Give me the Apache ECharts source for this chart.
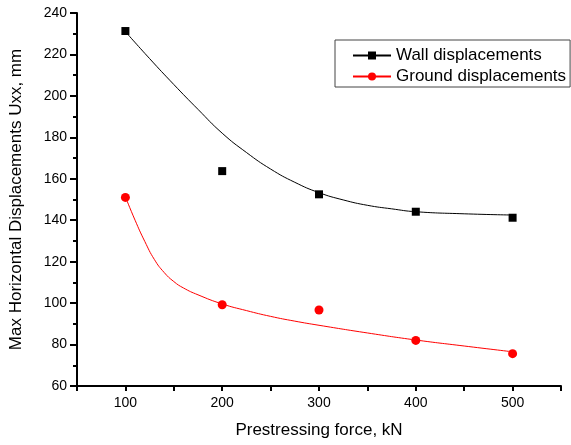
<!DOCTYPE html>
<html>
<head>
<meta charset="utf-8">
<script src="https://cdn.jsdelivr.net/npm/echarts@6/dist/echarts.min.js"></script>
<style>
  html, body { margin: 0; padding: 0; background: #fff; }
  #chart { width: 571px; height: 445px; }
</style>
</head>
<body>
<div id="chart"></div>
<script>
// measured points
const forceKN = [100, 200, 300, 400, 500]
const wallDisp = [231.3, 163.7, 152.5, 144.1, 141.2]
const groundDisp = [151, 99.2, 96.7, 82, 75.6]

// fitted curves
const wallFitX = [100, 125, 150, 175, 200, 225, 250, 275, 300, 325, 350, 375, 400, 450, 500]
const wallFitY = [231, 218, 205.5, 193.5, 182, 172.7, 164.7, 158.3, 153.3, 149.8, 147.2, 145.5, 144.1, 143.1, 142.5]
const groundFitX = [100, 110, 120, 130, 140, 150, 160, 175, 200, 225, 250, 275, 300, 350, 400, 450, 500]
const groundFitY = [151.3, 140, 129.8, 121, 114.8, 110.4, 107.3, 104, 99.6, 96.4, 93.6, 91.3, 89.3, 85.6, 82.2, 79.3, 76.5]

const xTicks = [100, 200, 300, 400, 500]
const legendNames = ['Wall displacements', 'Ground displacements']

const font = "'Liberation Sans', Arial, sans-serif"
const zip = (xs, ys) => xs.map((x, i) => [x, ys[i]])

const myChart = echarts.init(document.querySelector('#chart'))
const option = {
  animation: false,
  backgroundColor: '#fff',
  textStyle: { fontFamily: font, color: '#000' },
  grid: { left: 77, right: 10, top: 13, bottom: 59 },
  legend: {
    data: legendNames,
    orient: 'vertical',
    left: 335,
    top: 40,
    padding: [7, 4, 2, 17],
    itemWidth: 38,
    itemHeight: 10,
    itemGap: 4,
    borderColor: '#444',
    borderWidth: 1,
    textStyle: { fontFamily: font, fontSize: 17, color: '#000' }
  },
  xAxis: {
    type: 'value',
    min: 50,
    max: 550,
    interval: 50,
    name: 'Prestressing force, kN',
    nameLocation: 'middle',
    nameGap: 36,
    nameTextStyle: { fontFamily: font, fontSize: 17, color: '#000' },
    axisLine: { lineStyle: { color: '#000', width: 2 } },
    axisTick: { length: 5, lineStyle: { color: '#000', width: 2 } },
    axisLabel: {
      margin: 10,
      fontSize: 14,
      color: '#000',
      formatter: v => xTicks.includes(v) ? String(v) : ''
    },
    splitLine: { show: false }
  },
  yAxis: {
    type: 'value',
    min: 60,
    max: 240,
    interval: 20,
    name: 'Max Horizontal Displacements Uxx, mm',
    nameLocation: 'middle',
    nameGap: 52,
    nameTextStyle: { fontFamily: font, fontSize: 17, color: '#000' },
    axisLine: { show: true, lineStyle: { color: '#000', width: 2 } },
    axisTick: { show: true, length: 7, lineStyle: { color: '#000', width: 2 } },
    minorTick: { show: true, splitNumber: 2, length: 4, lineStyle: { color: '#000', width: 2 } },
    axisLabel: { margin: 10, fontSize: 14, color: '#000' },
    splitLine: { show: false }
  },
  series: [
    {
      name: legendNames[0],
      type: 'line',
      data: zip(wallFitX, wallFitY),
      smooth: 0.5,
      symbol: 'rect',
      showSymbol: false,
      lineStyle: { color: '#000', width: 1 },
      itemStyle: { color: '#000' },
      z: 2
    },
    {
      name: legendNames[1],
      type: 'line',
      data: zip(groundFitX, groundFitY),
      smooth: 0.5,
      symbol: 'circle',
      showSymbol: false,
      lineStyle: { color: '#ff0000', width: 1 },
      itemStyle: { color: '#ff0000' },
      z: 2
    },
    {
      name: 'wall points',
      type: 'scatter',
      data: zip(forceKN, wallDisp),
      symbol: 'rect',
      symbolSize: 8,
      itemStyle: { color: '#000', opacity: 1 },
      z: 3
    },
    {
      name: 'ground points',
      type: 'scatter',
      data: zip(forceKN, groundDisp),
      symbol: 'circle',
      symbolSize: 9,
      itemStyle: { color: '#ff0000', opacity: 1 },
      z: 3
    }
  ]
}
myChart.setOption(option)
</script>
</body>
</html>
